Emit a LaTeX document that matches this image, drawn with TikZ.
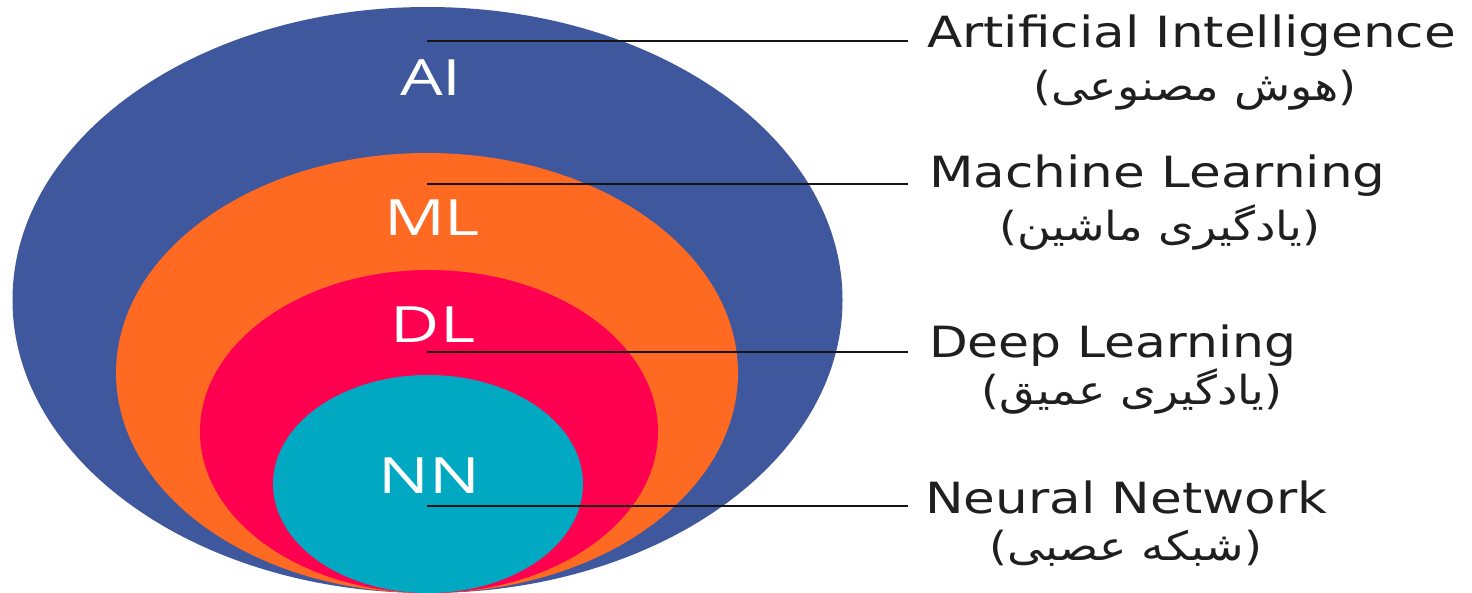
\documentclass[tikz,border=0pt]{standalone}
\usepackage{fontspec}
\setmainfont{DejaVu Sans}
\newfontfamily\labfont{Open Sans}
\newfontfamily\fa[Script=Arabic]{DejaVu Sans}
\TeXXeTstate=1
\definecolor{aiblue}{HTML}{3E579D}
\definecolor{mlorange}{HTML}{FF6A23}
\definecolor{dlred}{HTML}{FF0050}
\definecolor{nnteal}{HTML}{00A8C1}
\definecolor{linec}{HTML}{151515}
\tikzset{
  inlab/.style={text=white, inner sep=0pt, anchor=base, font=\labfont\fontsize{50}{50}\selectfont},
  englab/.style={text=black!88, inner sep=0pt, anchor=base west, font=\fontsize{43}{43}\selectfont},
  falab/.style={text=black!88, inner sep=0pt, anchor=base, font=\fontsize{40}{40}\selectfont},
  leader/.style={draw=linec, line width=1.4pt}
}
\begin{document}
\begin{tikzpicture}[x=1pt,y=-1pt]
\useasboundingbox[fill=white] (0,0) rectangle (1472,592);
% nested sets
\fill[aiblue] (427.5,300) ellipse [x radius=415, y radius=293];
\fill[mlorange] (427,373) ellipse [x radius=311, y radius=220];
\fill[dlred] (429,431.5) ellipse [x radius=229, y radius=161.5];
\fill[nnteal] (428,484) ellipse [x radius=155, y radius=109];
% inner labels
\node[inlab] (ai) at (431,95) {\scalebox{1.35}[1]{AI}};
\node[inlab] (ml) at (432,235) {\scalebox{1.35}[1]{ML}};
\node[inlab] (dl) at (433,342) {\scalebox{1.35}[1]{DL}};
\node[inlab] (nn) at (429,493) {\scalebox{1.35}[1]{NN}};
% english labels
\node[englab] (aiT) at (927,47) {\scalebox{1.2}[1]{Artificial Intelligence}};
\node[englab] (mlT) at (929,187) {\scalebox{1.2}[1]{Machine Learning}};
\node[englab] (dlT) at (929,357) {\scalebox{1.17}[1]{Deep Learning}};
\node[englab] (nnT) at (925,513) {\scalebox{1.2}[1]{Neural Network}};
% persian labels
\node[falab] (aiP) at (1195,100) {\scalebox{1.15}[1]{({\fa\beginR هوش مصنوعی\endR})}};
\node[falab] (mlP) at (1160,240) {\scalebox{1.15}[1]{({\fa\beginR یادگیری ماشین\endR})}};
\node[falab] (dlP) at (1132,404) {\scalebox{1.15}[1]{({\fa\beginR یادگیری عمیق\endR})}};
\node[falab] (nnP) at (1126,560) {\scalebox{1.15}[1]{({\fa\beginR شبکه عصبی\endR})}};
% leader lines
\coordinate (aiA) at (427,41);  \coordinate (aiB) at (908,41);
\coordinate (mlA) at (427,184); \coordinate (mlB) at (908,184);
\coordinate (dlA) at (427,352); \coordinate (dlB) at (908,352);
\coordinate (nnA) at (427,506); \coordinate (nnB) at (908,506);
\draw[leader] (aiA) -- (aiB);
\draw[leader] (mlA) -- (mlB);
\draw[leader] (dlA) -- (dlB);
\draw[leader] (nnA) -- (nnB);
\end{tikzpicture}
\end{document}
